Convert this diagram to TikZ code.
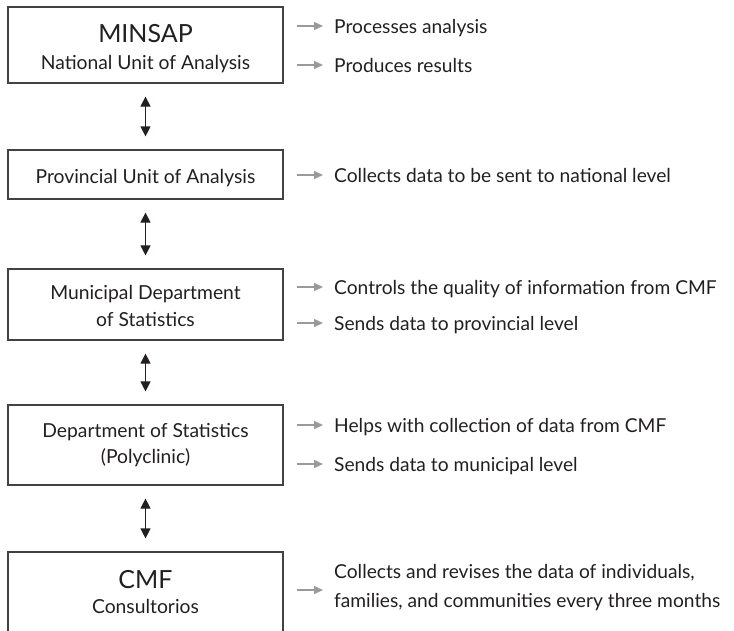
\documentclass[tikz,border=0pt]{standalone}
\usepackage{fontspec}
\setmainfont{Lato}
\usetikzlibrary{arrows.meta}
\definecolor{ink}{HTML}{231F20}
\definecolor{garr}{HTML}{9A9A9A}
\begin{document}
\begin{tikzpicture}[x=1pt,y=-1pt,
  box/.style={draw=ink!85, line width=1.2pt, minimum width=275pt, inner sep=0pt, anchor=center},
  txt/.style={text=ink, font=\fontsize{19.3}{22}\selectfont, inner sep=0pt, anchor=base},
  bigtxt/.style={txt, font=\fontsize{25}{28}\selectfont},
  note/.style={text=ink, font=\fontsize{19.2}{22}\selectfont, inner sep=0pt, anchor=base west},
  dbl/.style={{Triangle[length=10pt,width=10pt]}-{Triangle[length=10pt,width=10pt]}, line width=1.2pt, draw=ink, shorten <=13pt, shorten >=13pt},
  garrow/.style={-{Triangle[length=9pt,width=8pt]}, line width=1.4pt, draw=garr, shorten <=13pt, shorten >=11pt}]
\useasboundingbox (0,0) rectangle (734,630);
\clip (0,0) rectangle (734,630);
% boxes
\node[box, minimum height=76pt] (b1) at (145.5,45) {};
\node[box, minimum height=49pt] (b2) at (145.5,174.5) {};
\node[box, minimum height=71pt] (b3) at (145.5,304.5) {};
\node[box, minimum height=80pt] (b4) at (145.5,445) {};
\node[box, minimum height=110pt] (b5) at (145.5,607) {};
% box texts
\node[bigtxt] (t1a) at (145.5,42) {MINSAP};
\node[txt] (t1b) at (145.5,69) {National Unit of Analysis};
\node[txt] (t2) at (145.5,183) {Provincial Unit of Analysis};
\node[txt] (t3a) at (145.5,299) {Municipal Department};
\node[txt] (t3b) at (145.5,326) {of Statistics};
\node[txt] (t4a) at (145.5,437) {Department of Statistics};
\node[txt] (t4b) at (145.5,463) {(Polyclinic)};
\node[bigtxt] (t5a) at (145.5,588) {CMF};
\node[txt] (t5b) at (145.5,613) {Consultorios};
% vertical double arrows
\draw[dbl] (b1.south) -- (b2.north);
\draw[dbl] (b2.south) -- (b3.north);
\draw[dbl] (b3.south) -- (b4.north);
\draw[dbl] (b4.south) -- (b5.north);
% notes
\node[note] (n1a) at (334,33) {Processes analysis};
\node[note] (n1b) at (334,72) {Produces results};
\node[note] (n2) at (334,182) {Collects data to be sent to national level};
\node[note] (n3a) at (334,294) {Controls the quality of information from CMF};
\node[note] (n3b) at (334,330) {Sends data to provincial level};
\node[note] (n4a) at (334,432) {Helps with collection of data from CMF};
\node[note] (n4b) at (334,471) {Sends data to municipal level};
\node[note] (n5a) at (334,578) {Collects and revises the data of individuals,};
\node[note] (n5b) at (334,607) {families, and communities every three months};
% arrow targets
\coordinate (p1a) at ([yshift=7pt]n1a.base west);
\coordinate (p1b) at ([yshift=7pt]n1b.base west);
\coordinate (p2) at ([yshift=7pt]n2.base west);
\coordinate (p3a) at ([yshift=7pt]n3a.base west);
\coordinate (p3b) at ([yshift=7pt]n3b.base west);
\coordinate (p4a) at ([yshift=7pt]n4a.base west);
\coordinate (p4b) at ([yshift=7pt]n4b.base west);
\coordinate (p5) at ([yshift=-12pt]n5a.base west);
% gray arrows
\draw[garrow] (b1.east |- p1a) -- (p1a);
\draw[garrow] (b1.east |- p1b) -- (p1b);
\draw[garrow] (b2.east |- p2) -- (p2);
\draw[garrow] (b3.east |- p3a) -- (p3a);
\draw[garrow] (b3.east |- p3b) -- (p3b);
\draw[garrow] (b4.east |- p4a) -- (p4a);
\draw[garrow] (b4.east |- p4b) -- (p4b);
\draw[garrow] (b5.east |- p5) -- (p5);
\end{tikzpicture}
\end{document}
